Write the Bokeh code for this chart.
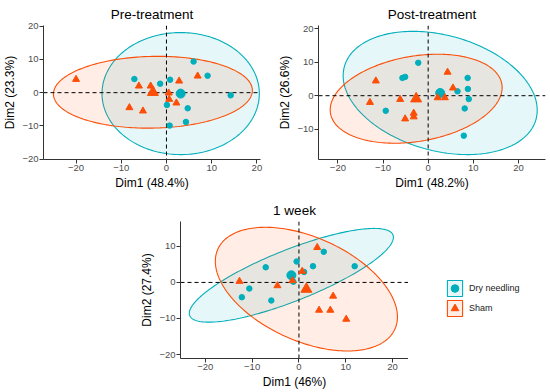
import numpy as np
from bokeh.plotting import figure
from bokeh.models import Span, FixedTicker, Legend, LegendItem, Spacer, Range1d
from bokeh.layouts import column, row
from bokeh.embed import file_html
from bokeh.resources import INLINE

# ---------------- data ----------------
groups = ["Dry needling", "Sham"]
titles = ["Pre-treatment", "Post-treatment", "1 week"]
x_labels = ["Dim1 (48.4%)", "Dim1 (48.2%)", "Dim1 (46%)"]
y_labels = ["Dim2 (23.3%)", "Dim2 (26.6%)", "Dim2 (27.4%)"]
x_ticks = [-20, -10, 0, 10, 20]
y_ticks = [-20, -10, 0, 10, 20]

# Pre-treatment
dn_x_pre = [6.0, 9.1, -7.1, -1.4, 0.8, 14.2, 0.1, 4.7, 4.3, 0.7]
dn_y_pre = [9.35, 5.1, 4.1, 2.7, 3.9, -0.8, -3.7, -4.7, -8.8, -9.9]
sh_x_pre = [-20.0, -6.1, -3.5, 0.5, 0.6, 2.2, 2.8, 6.9, -8.2, -5.2]
sh_y_pre = [4.0, 2.0, 2.0, -0.1, -2.0, -3.1, 3.5, 5.0, -4.5, -5.5]

# Post-treatment
dn_x_post = [-2.2, -5.7, -5.1, -9.4, 6.5, 8.75, 8.8, 9.0, 8.1, 7.9]
dn_y_post = [9.8, 5.3, 5.6, -4.5, 1.3, 5.3, 2.0, -1.0, -3.8, -11.9]
sh_x_post = [-11.6, -12.9, -6.2, -3.2, -3.2, -5.1, 2.1, 3.7, 4.3, 5.5]
sh_y_post = [4.4, -2.0, -1.1, -5.2, -6.3, -6.9, -0.6, -0.6, 7.0, 2.3]

# 1 week
dn_x_wk = [5.3, 11.9, -0.5, 3.0, -7.1, 1.1, -1.2, -10.6, -12.2, -5.9]
dn_y_wk = [8.5, 4.5, 5.8, 4.5, 4.2, 2.9, 0.2, -1.7, -4.1, -5.0]
sh_x_wk = [3.9, 0.7, -1.4, -12.7, -4.6, 7.3, 4.3, 6.7, 10.1]
sh_y_wk = [9.7, 3.1, 0.5, 0.3, -0.9, -3.8, -7.7, -7.7, -10.2]

# ellipse half-extents along Dim1, Dim2 and correlation term (cos of phase)
ell_dn_pre = [17.4, 18.35, 0.0]
ell_sh_pre = [22.0, 10.8, 0.05]
ell_dn_post = [21.5, 18.35, -0.28]
ell_sh_post = [19.05, 13.25, 0.25]
ell_dn_wk = [21.8, 13.0, 0.81]
ell_sh_wk = [19.45, 17.15, -0.45]

# ---------------- style ----------------
COLORS = ["#00AFBB", "#FC4E07"]
MARKERS = ["circle", "triangle"]
PT_SIZE = [5.5, 7]
CEN_SIZE = [9, 11]
FONT = "Liberation Sans"


def ellipse(cx, cy, params):
    hx, hy, c = params
    phi = np.arccos(c)
    t = np.linspace(0, 2 * np.pi, 240)
    return cx + hx * np.cos(t), cy + hy * np.cos(t - phi)


def add_group(p, xs, ys, ell, g, points=True):
    ex, ey = ellipse(np.mean(xs), np.mean(ys), ell)
    pr = p.patch(ex, ey, fill_color=COLORS[g], fill_alpha=0.1,
                 line_color=COLORS[g], line_width=1.1, level="image")
    if points:
        p.scatter(xs, ys, marker=MARKERS[g], size=PT_SIZE[g], color=COLORS[g])
    cr = p.scatter([np.mean(xs)], [np.mean(ys)], marker=MARKERS[g],
                   size=CEN_SIZE[g], color=COLORS[g])
    return [pr, cr]


def make_panel(i, series, ells, xr, yr, width, height, borders, title_offset=0):
    bl, br, bt, bb = borders
    p = figure(width=width, height=height, x_range=Range1d(*xr), y_range=Range1d(*yr),
               output_backend="svg", toolbar_location=None,
               min_border_left=bl, min_border_right=br, min_border_top=bt, min_border_bottom=bb)
    p.title.text = titles[i]
    p.title.align = "center"
    p.title.text_font = FONT
    p.title.text_font_size = "13.5px"
    p.title.text_font_style = "normal"
    p.title.text_color = "black"
    p.title.standoff = 8
    p.title.offset = title_offset
    p.xgrid.visible = False
    p.ygrid.visible = False
    p.outline_line_color = None

    for g in range(2):
        add_group(p, series[g][0], series[g][1], ells[g], g)

    for dim in ("height", "width"):
        p.add_layout(Span(location=0, dimension=dim, line_color="black",
                          line_dash="4 3", line_width=1, level="underlay"))

    for ax, lab, tk in ((p.xaxis, x_labels[i], x_ticks), (p.yaxis, y_labels[i], y_ticks)):
        ax.ticker = FixedTicker(ticks=tk)
        ax.axis_label = lab
        ax.axis_label_text_font = FONT
        ax.axis_label_text_font_size = "12px"
        ax.axis_label_text_font_style = "normal"
        ax.axis_label_text_color = "black"
        ax.axis_label_standoff = 2
        ax.major_label_text_font = FONT
        ax.major_label_text_font_size = "9.5px"
        ax.major_label_text_color = "#4D4D4D"
        ax.major_label_standoff = 1
        ax.major_tick_in = 0
        ax.major_tick_out = 4
        ax.minor_tick_line_color = None
        ax.axis_line_color = "#333333"
        ax.major_tick_line_color = "#333333"
    return p


p1 = make_panel(0, [(dn_x_pre, dn_y_pre), (sh_x_pre, sh_y_pre)], [ell_dn_pre, ell_sh_pre],
                (-27.2, 20.8), (-20.1, 20.2), 275, 196, (41, 15, 24, 37), title_offset=4)
p2 = make_panel(1, [(dn_x_post, dn_y_post), (sh_x_post, sh_y_post)], [ell_dn_post, ell_sh_post],
                (-24.3, 26.0), (-19.0, 20.9), 275, 196, (42, 5, 25, 37))
p3 = make_panel(2, [(dn_x_wk, dn_y_wk), (sh_x_wk, sh_y_wk)], [ell_dn_wk, ell_sh_wk],
                (-25.3, 23.4), (-21.1, 16.9), 271, 196, (42, 0, 25, 34))

# legend panel: same group glyphs, kept outside its visible range so only the key shows
pl = figure(width=142, height=196, x_range=Range1d(1000, 1001), y_range=Range1d(1000, 1001),
            output_backend="svg", toolbar_location=None, title=None,
            x_axis_location=None, y_axis_location=None,
            min_border_left=0, min_border_right=0, min_border_top=0, min_border_bottom=0)
pl.xgrid.visible = False
pl.ygrid.visible = False
pl.outline_line_color = None
leg_series = [(dn_x_wk, dn_y_wk, ell_dn_wk), (sh_x_wk, sh_y_wk, ell_sh_wk)]
leg_rends = [add_group(pl, s[0], s[1], s[2], g, points=False) for g, s in enumerate(leg_series)]

legend = Legend(items=[LegendItem(label=groups[g], renderers=leg_rends[g]) for g in range(2)],
                location=(37, 40))
legend.glyph_width = 19
legend.glyph_height = 20
legend.spacing = 0
legend.padding = 0
legend.margin = 0
legend.label_standoff = 5
legend.label_text_font = FONT
legend.label_text_font_size = "9px"
legend.label_text_color = "#1A1A1A"
legend.border_line_color = None
legend.background_fill_alpha = 0
pl.add_layout(legend)

layout = column(row(p1, p2), row(Spacer(width=137, height=196), p3, pl))

open("out.html", "w").write(file_html(layout, INLINE))
